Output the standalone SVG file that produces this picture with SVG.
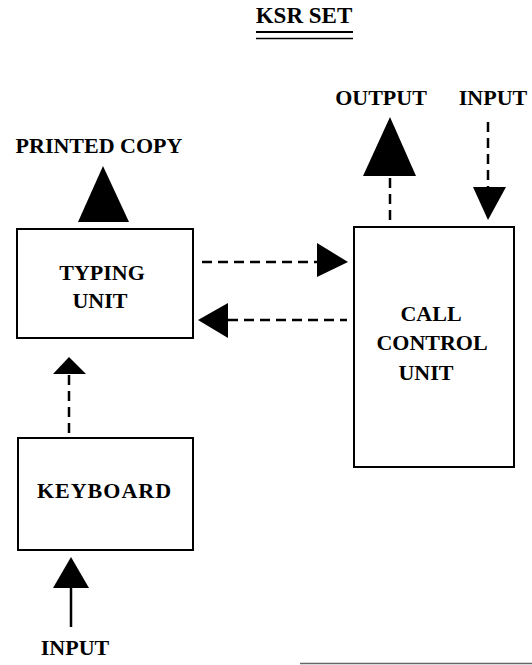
<svg xmlns="http://www.w3.org/2000/svg" width="532" height="665" viewBox="0 0 532 665">
<style>
  text { font-family: "Liberation Serif", "DejaVu Serif", "Times New Roman", serif; font-weight: bold; font-size: 22px; fill: #000; text-anchor: middle; }
  .box { fill: #fff; stroke: #000; stroke-width: 2; }
  .dash { stroke: #000; stroke-width: 2.5; stroke-dasharray: 10 6; fill: none; }
  .solid { stroke: #000; stroke-width: 2.5; fill: none; }
  .head { fill: #000; stroke: none; }
</style>
<rect width="532" height="665" fill="#fff"/>
<g id="title" font-family="Liberation Serif, serif">
  <text x="304" y="23" style="font-size:23px">KSR SET</text>
  <line x1="256" y1="32" x2="353" y2="32" stroke="#000" stroke-width="2"/>
  <line x1="256" y1="38.5" x2="353" y2="38.5" stroke="#000" stroke-width="1.5"/>
</g>
<g id="connectors">
  <polygon class="head" points="103,166 129,222 78,222"/>
  <line class="dash" x1="202" y1="262" x2="317" y2="262"/>
  <polygon class="head" points="348,262 317,243 317,277"/>
  <line class="dash" x1="228" y1="320" x2="347" y2="320"/>
  <polygon class="head" points="198,320 228,303 228,338"/>
  <line class="dash" x1="390" y1="178" x2="390" y2="224"/>
  <polygon class="head" points="390,117 416,176 363,176"/>
  <line class="dash" x1="488" y1="122" x2="488" y2="188"/>
  <polygon class="head" points="488,220 473,187 506,187"/>
  <line class="dash" x1="69" y1="375" x2="69" y2="434"/>
  <polygon class="head" points="69,357 86,374 53,374"/>
  <line class="solid" x1="71" y1="586" x2="71" y2="627"/>
  <polygon class="head" points="71,557 89,588 53,588"/>
</g>
<g id="printed-copy-label"><text x="99" y="153">PRINTED COPY</text></g>
<g id="typing-unit">
  <rect class="box" x="17" y="229" width="176" height="109"/>
  <text x="102" y="280">TYPING</text>
  <text x="100" y="308">UNIT</text>
</g>
<g id="output-label"><text x="381" y="105">OUTPUT</text></g>
<g id="input-label-top"><text x="493" y="105">INPUT</text></g>
<g id="call-control-unit">
  <rect class="box" x="354" y="227" width="160" height="240"/>
  <text x="431" y="321">CALL</text>
  <text x="432" y="350">CONTROL</text>
  <text x="426" y="380">UNIT</text>
</g>
<g id="keyboard">
  <rect class="box" x="18" y="438" width="175" height="112"/>
  <text x="104.5" y="498" style="letter-spacing:1px">KEYBOARD</text>
</g>
<g id="input-label-bottom"><text x="75" y="655">INPUT</text></g>
<line x1="300" y1="663.5" x2="532" y2="663.5" stroke="#666" stroke-width="1.5"/>
</svg>
